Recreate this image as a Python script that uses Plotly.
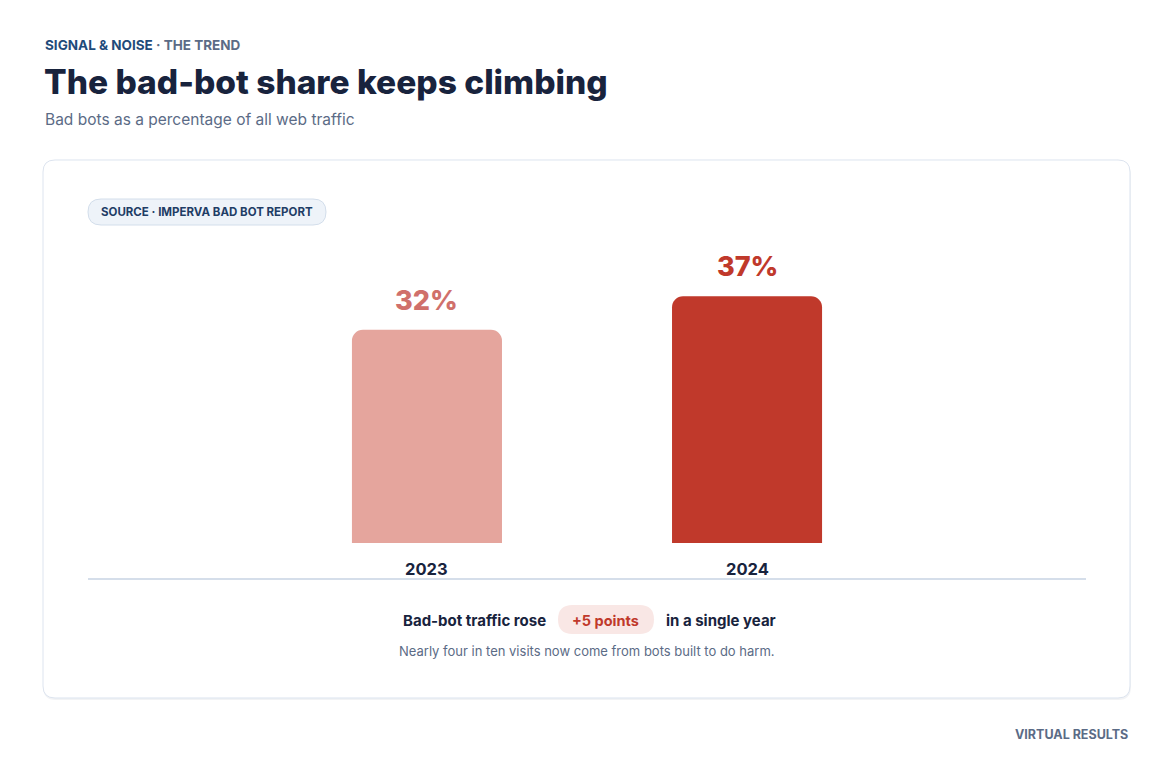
"""Bad-bot share of web traffic, 2023 vs 2024 (card-style bar chart)."""

import plotly.graph_objects as go

# --- data -------------------------------------------------------------
years = ["2023", "2024"]
bad_bot_share = [32, 37]
bar_colors = ["#e5a59d", "#c0392b"]
label_colors = ["#d0706b", "#c0392b"]

eyebrow_left = "SIGNAL & NOISE"
eyebrow_right = "· THE TREND"
title_text = "The bad-bot share keeps climbing"
subtitle_text = "Bad bots as a percentage of all web traffic"
source_text = "SOURCE · IMPERVA BAD BOT REPORT"
delta_points = bad_bot_share[1] - bad_bot_share[0]
footer_note = "Nearly four in ten visits now come from bots built to do harm."
brand_text = "VIRTUAL RESULTS"

# --- page geometry (pixels, page coords; browser body has an 8px margin) --
OFF = 8
W, H = 1174 - OFF, 780 - OFF
FONT = "Inter"
NAVY = "#18233d"
SLATE = "#5b6b86"


def px(x):
    return (x - OFF) / W


def py(y):
    return 1 - (y - OFF) / H


def rrect(x0, y0, x1, y1, r):
    """Rounded rectangle path in paper coords, from pixel box."""
    pts = [
        ("M", (x0 + r, y0)), ("L", (x1 - r, y0)), ("Q", (x1, y0), (x1, y0 + r)),
        ("L", (x1, y1 - r)), ("Q", (x1, y1), (x1 - r, y1)),
        ("L", (x0 + r, y1)), ("Q", (x0, y1), (x0, y1 - r)),
        ("L", (x0, y0 + r)), ("Q", (x0, y0), (x0 + r, y0)),
    ]
    out = []
    for p in pts:
        coords = " ".join(f"{px(a):.5f},{py(b):.5f}" for a, b in p[1:])
        out.append(f"{p[0]} {coords}")
    return " ".join(out) + " Z"


fig = go.Figure()

fig.add_trace(go.Bar(
    x=years,
    y=bad_bot_share,
    width=150 / 320,
    marker=dict(color=bar_colors, line=dict(width=0), cornerradius=11),
    hoverinfo="skip",
))

shapes = [
    # card shadow + card
    dict(type="path", path=rrect(43, 162, 1131, 700, 13), xref="paper", yref="paper",
         fillcolor="rgba(30,50,90,0.06)", line=dict(width=0), layer="below"),
    dict(type="path", path=rrect(43, 160, 1130, 698, 12), xref="paper", yref="paper",
         fillcolor="white", line=dict(color="#dde4ef", width=1), layer="below"),
    # source pill
    dict(type="path", path=rrect(88, 199, 326, 225, 13), xref="paper", yref="paper",
         fillcolor="#eef3f9", line=dict(color="#d3deeb", width=1), layer="below"),
    # baseline rule
    dict(type="line", x0=px(88), x1=px(1086), y0=py(579), y1=py(579),
         xref="paper", yref="paper", line=dict(color="#d5deea", width=2)),
    # delta pill
    dict(type="path", path=rrect(558, 605, 654, 634, 14.5), xref="paper", yref="paper",
         fillcolor="#f9e7e5", line=dict(width=0), layer="below"),
]

annotations = [
    dict(text=f"{eyebrow_left} <span style='color:{SLATE}'>{eyebrow_right}</span>",
         x=px(43), y=py(45), xanchor="left", yanchor="middle",
         font=dict(size=13.5, color="#1f4b7a", family=FONT, weight=700)),
    dict(text=title_text, x=px(42), y=py(82), xanchor="left", yanchor="middle",
         font=dict(size=33.5, color=NAVY, family=FONT, weight=800)),
    dict(text=subtitle_text, x=px(43), y=py(120), xanchor="left", yanchor="middle",
         font=dict(size=15.5, color=SLATE, family=FONT)),
    dict(text=source_text, x=px(207), y=py(212), xanchor="center", yanchor="middle",
         font=dict(size=11.5, color="#1f3d66", family=FONT, weight=700)),
    dict(text="Bad-bot traffic rose", x=px(548), y=py(620), xanchor="right", yanchor="middle",
         font=dict(size=15, color=NAVY, family=FONT, weight=700)),
    dict(text=f"+{delta_points} points", x=px(606), y=py(620), xanchor="center", yanchor="middle",
         font=dict(size=14.5, color="#c0392b", family=FONT, weight=700)),
    dict(text="in a single year", x=px(664), y=py(620), xanchor="left", yanchor="middle",
         font=dict(size=15, color=NAVY, family=FONT, weight=700)),
    dict(text=footer_note, x=px(587), y=py(651), xanchor="center", yanchor="middle",
         font=dict(size=13, color=SLATE, family=FONT)),
    dict(text=brand_text, x=px(1130), y=py(734), xanchor="right", yanchor="middle",
         font=dict(size=12.5, color=SLATE, family=FONT, weight=700)),
]

# value labels above bars and year labels below (category index positions)
for i, (yr, val, col) in enumerate(zip(years, bad_bot_share, label_colors)):
    annotations.append(dict(
        text=f"{val}%", x=i, y=val, xref="x", yref="y",
        xanchor="center", yanchor="bottom", yshift=11, showarrow=False,
        font=dict(size=27, color=col, family=FONT, weight=800)))
    annotations.append(dict(
        text=yr, x=i, y=0, xref="x", yref="y",
        xanchor="center", yanchor="top", yshift=-14, showarrow=False,
        font=dict(size=16.5, color=NAVY, family=FONT, weight=700)))

for a in annotations:
    a.setdefault("xref", "paper")
    a.setdefault("yref", "paper")
    a.setdefault("showarrow", False)

fig.update_layout(
    width=W,
    height=H,
    margin=dict(l=0, r=0, t=0, b=0),
    paper_bgcolor="white",
    plot_bgcolor="rgba(0,0,0,0)",
    showlegend=False,
    font=dict(family=FONT),
    xaxis=dict(domain=[px(88), px(1086)], range=[-1.059, 2.059], type="category",
               showticklabels=False, showgrid=False, zeroline=False, showline=False,
               fixedrange=True),
    yaxis=dict(domain=[py(543), py(243)], range=[0, 45], showticklabels=False,
               showgrid=False, zeroline=False, showline=False, fixedrange=True),
    shapes=shapes,
    annotations=annotations,
)

fig.write_html("out.html")
